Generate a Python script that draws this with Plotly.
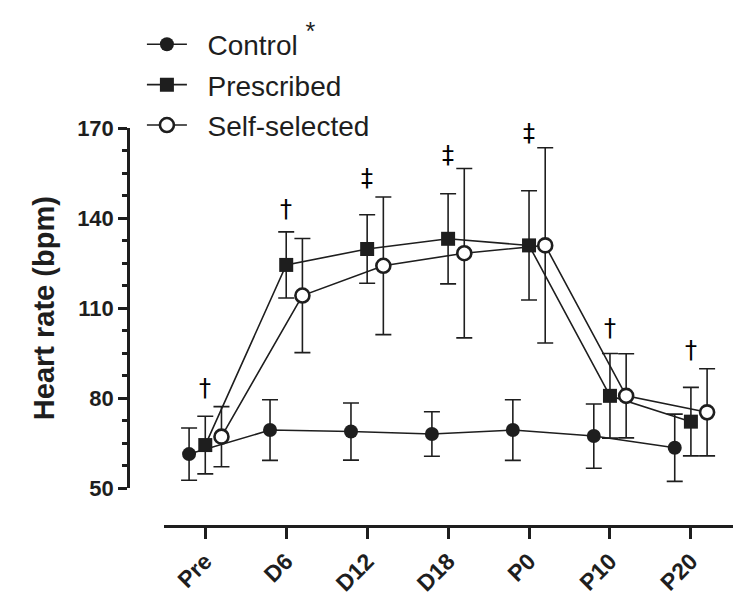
import plotly.graph_objects as go

categories = ["Pre", "D6", "D12", "D18", "P0", "P10", "P20"]
control_mean = [61.4, 69.4, 68.9, 68.1, 69.4, 67.4, 63.5]
control_sd = [8.7, 10.1, 9.5, 7.4, 10.1, 10.7, 11.2]
prescribed_mean = [64.4, 124.4, 129.7, 133.1, 130.9, 80.8, 72.2]
prescribed_sd = [9.6, 11.0, 11.4, 15.0, 18.2, 14.1, 11.4]
self_mean = [67.2, 114.2, 124.1, 128.3, 130.9, 80.8, 75.3]
self_sd = [10.0, 19.0, 22.9, 28.2, 32.5, 14.0, 14.5]
sig_symbols = ["†", "†", "‡", "‡", "‡", "†", "†"]
sig_y = [83.4, 143.0, 153.4, 160.9, 168.3, 103.4, 96.1]
y_ticks = [50, 80, 110, 140, 170]

FONT = "Arial, 'Liberation Sans', Helvetica, sans-serif"
INK = "#1e1e1e"
NB = "\u00a0"
idx = list(range(len(categories)))
OFF = 0.2

def err(vals):
    return dict(type="data", array=vals, visible=True, color=INK, thickness=1.6, width=8)

fig = go.Figure()
fig.add_trace(go.Scatter(
    x=[i - OFF for i in idx], y=control_mean, error_y=err(control_sd),
    mode="lines+markers",
    name=NB * 2 + "Control" + NB + "<span style='font-size:36px'><sup>*</sup></span>",
    legendgroup="a",
    line=dict(color=INK, width=1.6),
    marker=dict(symbol="circle", size=14, color=INK, line=dict(width=0)),
    cliponaxis=False))
fig.add_trace(go.Scatter(
    x=idx, y=prescribed_mean, error_y=err(prescribed_sd),
    mode="lines+markers", name=NB * 2 + "Prescribed", legendgroup="b",
    line=dict(color=INK, width=1.6),
    marker=dict(symbol="square", size=14, color=INK, line=dict(width=0)),
    cliponaxis=False))
fig.add_trace(go.Scatter(
    x=[i + OFF for i in idx], y=self_mean, error_y=err(self_sd),
    mode="lines+markers", name=NB * 2 + "Self-selected", legendgroup="c",
    line=dict(color=INK, width=1.6),
    marker=dict(symbol="circle", size=14, color="white", line=dict(width=2.6, color=INK)),
    cliponaxis=False))

for i, (s, yv) in enumerate(zip(sig_symbols, sig_y)):
    fig.add_annotation(x=i, y=yv, xref="x", yref="y", text=s, showarrow=False,
                       font=dict(family="'DejaVu Sans', sans-serif", size=24, color="#000000"),
                       yanchor="middle")

fig.update_layout(
    template="none",
    width=742, height=614,
    margin=dict(l=120, r=17, t=120, b=96, autoexpand=False),
    paper_bgcolor="white", plot_bgcolor="white",
    font=dict(family=FONT, color=INK),
    showlegend=True,
    legend=dict(x=0.023, y=1.2725, xanchor="left", yanchor="top",
                font=dict(family=FONT, size=28, color=INK),
                itemwidth=40, tracegroupgap=1, bgcolor="rgba(0,0,0,0)", borderwidth=0),
    xaxis=dict(domain=[0.0595, 1], range=[-0.51, 6.52], anchor="free", position=0,
               automargin=False,
               tickmode="array", tickvals=idx, ticktext=categories, tickangle=-45,
               ticks="outside", ticklen=11, tickwidth=2.5, tickcolor=INK,
               showline=True, linewidth=2.5, linecolor=INK, showgrid=False, zeroline=False,
               tickfont=dict(family=FONT, size=23, color=INK, weight="bold")),
    yaxis=dict(domain=[0.0947, 1], range=[50, 170], anchor="free", position=0,
               automargin=False,
               tickmode="array", tickvals=y_ticks,
               ticks="outside", ticklen=9, tickwidth=2.5, tickcolor=INK,
               minor=dict(dtick=7.5, tick0=50, ticks="outside", ticklen=5, tickwidth=2.5,
                          tickcolor=INK, showgrid=False),
               showline=True, linewidth=2.5, linecolor=INK, showgrid=False, zeroline=False,
               tickfont=dict(family=FONT, size=22, color=INK, weight="bold"),
               title=dict(text="Heart rate (bpm)", standoff=12,
                          font=dict(family=FONT, size=29, color=INK, weight="bold"))),
)

fig.write_html("out.html")
